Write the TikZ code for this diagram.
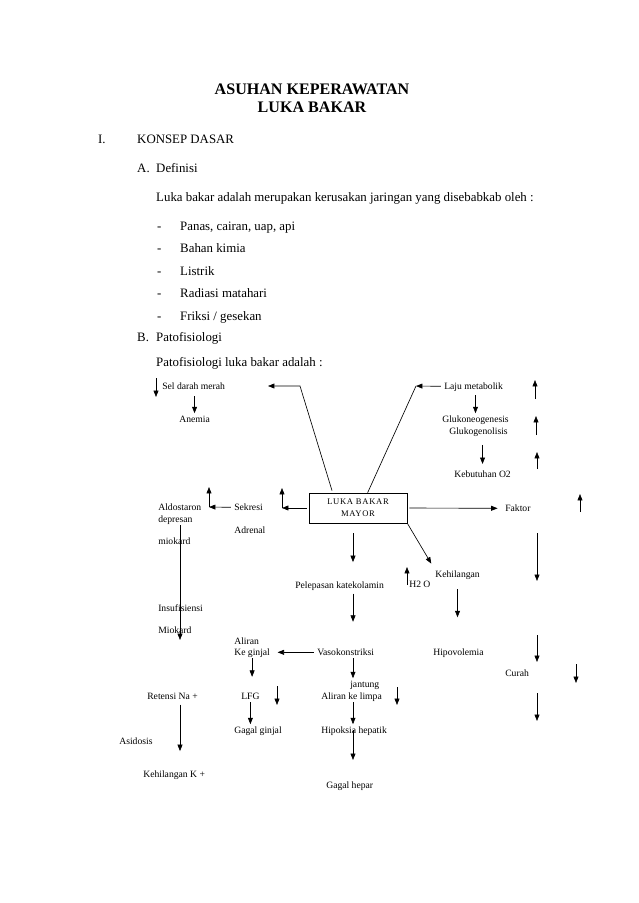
\documentclass[tikz,border=0pt]{standalone}
\usepackage{fontspec}
\setmainfont{Liberation Serif}
\usetikzlibrary{arrows.meta,calc}
\tikzset{
  judul/.style={anchor=base, inner sep=0pt, font=\bfseries\fontsize{15}{17}\selectfont},
  teks/.style={anchor=base west, inner sep=0pt, font=\fontsize{12}{14}\selectfont},
  isi/.style={anchor=base west, inner sep=1pt, text height=7pt, text depth=2pt, font=\fontsize{9}{10}\selectfont},
  kotak/.style={draw, line width=0.6pt, align=center, minimum width=91.5pt, minimum height=28pt, inner sep=2pt, font=\fontsize{8}{11.5}\selectfont\addfontfeatures{LetterSpace=8}},
  flow/.style={-{Triangle[length=6pt,width=4.6pt]}, line width=0.6pt, shorten <=2pt},
  garis/.style={line width=0.6pt},
}

\begin{document}
\begin{tikzpicture}[x=0.9331pt, y=-0.9331pt]
  \fill[white] (0,0) rectangle (638,903);
  \useasboundingbox (0,0) rectangle (638,903);

  % judul dan pengantar
  \node[judul] (judul1) at (312,94) {ASUHAN KEPERAWATAN};
  \node[judul] (judul2) at (312,112) {LUKA BAKAR};
  \node[teks] (romawi) at (98,143) {I.};
  \node[teks] (konsep) at (137,143) {KONSEP DASAR};
  \node[teks] (hurufA) at (137,172) {A.};
  \node[teks] (definisi) at (156,172) {Definisi};
  \node[teks] (pengertian) at (156,201) {Luka bakar adalah merupakan kerusakan jaringan yang disebabkab oleh :};
  \foreach \teks [count=\i] in {{Panas, cairan, uap, api}, Bahan kimia, Listrik, Radiasi matahari, Friksi / gesekan} {
    \node[teks] (strip\i) at (157,{230+(\i-1)*22.5}) {-};
    \node[teks] (butir\i) at (180,{230+(\i-1)*22.5}) {\teks};
  }
  \node[teks] (hurufB) at (137,341) {B.};
  \node[teks] (patofisiologi) at (156,341) {Patofisiologi};
  \node[teks] (pato) at (156,366) {Patofisiologi luka bakar adalah :};

  % bagan patofisiologi
  \node[kotak] (mayor) at (358,508) {LUKA BAKAR\\MAYOR};
  \node[isi] (sel) at (161,389) {Sel darah merah};
  \node[isi] (anemia) at (178,422) {Anemia};
  \node[isi] (laju) at (443,389) {Laju metabolik};
  \node[isi] (gluko1) at (441,422) {Glukoneogenesis};
  \node[isi] (gluko2) at (448,434) {Glukogenolisis};
  \node[isi] (kebutuhan) at (453,477) {Kebutuhan O2};
  \node[isi] (faktor) at (504,511) {Faktor};
  \node[isi] (aldo) at (157,510) {Aldostaron};
  \node[isi] (depresan) at (157,522) {depresan};
  \node[isi] (miokard) at (157,544) {miokard};
  \node[isi] (sekresi) at (233,510) {Sekresi};
  \node[isi] (adrenal) at (233,533) {Adrenal};
  \node[isi] (pelepasan) at (294,588) {Pelepasan katekolamin};
  \node[isi] (kehilangan) at (434,577) {Kehilangan};
  \node[isi] (h2o) at (408,587) {H2 O};
  \node[isi] (insuf) at (157,611) {Insufisiensi};
  \node[isi] (miokard2) at (157,633) {Miokard};
  \node[isi] (aliran) at (233,644) {Aliran};
  \node[isi] (keginjal) at (233,655) {Ke ginjal};
  \node[isi] (vaso) at (316,655) {Vasokonstriksi};
  \node[isi] (hipovolemia) at (432,655) {Hipovolemia};
  \node[isi] (curah) at (504,676) {Curah};
  \node[isi] (jantung) at (349,687) {jantung};
  \node[isi] (retensi) at (146,699) {Retensi Na +};
  \node[isi] (lfg) at (240,699) {LFG};
  \node[isi] (limpa) at (320,699) {Aliran ke limpa};
  \node[isi] (gagalginjal) at (233,733) {Gagal ginjal};
  \node[isi] (hipoksia) at (320,733) {Hipoksia hepatik};
  \node[isi] (asidosis) at (118,744) {Asidosis};
  \node[isi] (kehilanganK) at (142,777) {Kehilangan K +};
  \node[isi] (gagalhepar) at (325,788) {Gagal hepar};

  \coordinate (poros) at (353,0);
  \coordinate (tekukKiri) at (300,386);
  \coordinate (ujungKiri) at (268,386);
  \coordinate (tekukKanan) at (416,386);
  \coordinate (tekukSek) at (282,508);
  \coordinate (tekukAldo) at (209,507);
  \coordinate (garisAldo) at (180,640);

  % penghubung
  \draw[flow] ($(mayor.north west)+(24,0)$) -- (tekukKiri) -- (ujungKiri);
  \draw[flow] (laju.west) -- (tekukKanan);
  \draw[garis] (tekukKanan) -- ($(mayor.north west)+(59,0)$);
  \draw[flow, shorten >=6pt] (mayor.east) -- (faktor.west);
  \draw[flow] (mayor.west) -- (tekukSek);
  \draw[flow, shorten <=0pt] (tekukSek) -- ++(0,-20);
  \draw[flow] (sekresi.west) -- (tekukAldo);
  \draw[flow, shorten <=0pt] (tekukAldo) -- ++(0,-20);
  \draw[flow, shorten <=3.5pt] (sel.south -| anemia.north) -- (anemia.north);
  \draw[flow, shorten <=2.5pt] (laju.south -| gluko1.north) -- (gluko1.north);
  \draw[flow, shorten <=7pt, shorten >=4pt] (gluko2.south -| kebutuhan.north) -- (kebutuhan.north);
  \draw[flow, shorten <=0pt] (depresan.south -| garisAldo) -- (garisAldo);
  \draw[flow, shorten <=9.3pt, shorten >=16pt] (mayor.south -| poros) -- (pelepasan.north -| poros);
  \draw[flow, shorten >=22.8pt] (pelepasan.south -| poros) -- (vaso.north -| poros);
  \draw[flow, shorten <=0pt, shorten >=5pt] (mayor.south east) -- (kehilangan.north west);
  \draw[flow, shorten <=8.2pt, shorten >=27pt] (kehilangan.south) -- (kehilangan.south |- hipovolemia.north);
  \draw[flow, shorten >=6pt] (vaso.west) -- (keginjal.east);
  \draw[flow, shorten <=0pt, shorten >=12.5pt] (keginjal.south) -- (keginjal.south |- lfg.north);
  \draw[flow, shorten <=0pt] (vaso.south -| poros) -- (jantung.north -| poros);
  \draw[flow, shorten <=0pt] (lfg.south) -- (lfg.south |- gagalginjal.north);
  \draw[flow, shorten <=0pt] (limpa.south -| poros) -- (hipoksia.north -| poros);
  \draw[flow, shorten <=0pt, shorten >=18pt] (hipoksia -| poros) -- (gagalhepar.north -| poros);
  \draw[flow, shorten >=16pt] (retensi.south -| garisAldo) -- (kehilanganK.north -| garisAldo);

  % panah naik / turun
  \foreach \x/\a/\b in {156/378/397, 535/399/380, 536/435/416, 537/469/452, 580/512/494, 407/585/567,
                        537/533/581, 537/635/662, 576/664/683, 537/693/721, 397/687/705, 277/686/705}
    \draw[flow, shorten <=0pt] (\x,\a) -- (\x,\b);
\end{tikzpicture}
\end{document}
